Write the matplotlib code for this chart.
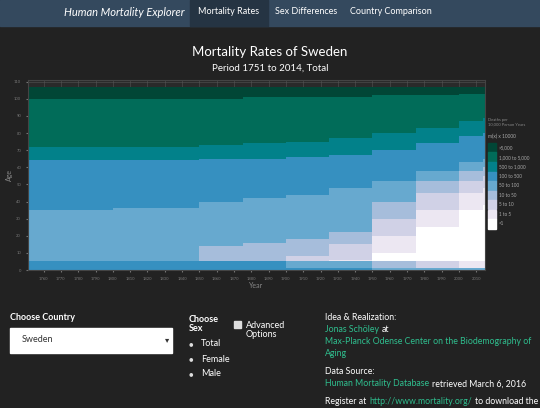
import numpy as np
import matplotlib.pyplot as plt
from matplotlib.colors import ListedColormap, BoundaryNorm
from matplotlib.patches import Rectangle

plt.rcParams['font.family'] = ['Lato', 'DejaVu Sans']

## Data
# sample years; each one holds until the next sample year
sample_years = [1751, 1800, 1850, 1875, 1900, 1925, 1950, 1975, 2000, 2014]
# age where the rate enters class k (k = 1..8), per sample year
thresholds = [
    [0, 0, 0, 0, 35, 64, 72, 100],
    [0, 0, 0, 0, 36, 64, 72, 100],
    [0, 0, 0, 14, 40, 65, 73, 100],
    [0, 0, 0, 16, 42, 65, 74, 101],
    [0, 0, 8, 18, 44, 66, 75, 101],
    [0, 6, 15, 22, 48, 67, 77, 101],
    [10, 20, 30, 40, 52, 70, 80, 102],
    [25, 35, 45, 52, 58, 74, 83, 102],
    [35, 45, 52, 58, 63, 78, 87, 103],
    [38, 48, 55, 60, 65, 80, 89, 103],
]
child_class = [5, 5, 5, 5, 4, 4, 3, 2, 1, 1]   # ages 1-4
infant_class = [5, 5, 5, 5, 5, 5, 4, 4, 4, 4]  # age 0
max_age = 106
class_labels = ['<1', '1 to 5', '5 to 10', '10 to 50', '50 to 100', '100 to 500',
                '500 to 1,000', '1,000 to 5,000', '>5,000']
colors = ['#ffffff', '#ece7f2', '#d0d1e6', '#a6bddb', '#67a9cf',
          '#3690c0', '#02818a', '#016c59', '#014636']

years = np.arange(1751, 2015)
ages = np.arange(0, 111)
Z = np.full((len(ages), len(years)), np.nan)
for j, yr in enumerate(years):
    i = np.searchsorted(sample_years, yr, side='right') - 1
    t = np.array(thresholds[i])
    col = (ages[:, None] >= t[None, :]).sum(axis=1).astype(float)
    col[1:5] = np.maximum(col[1:5], child_class[i])
    col[0] = infant_class[i]
    col[ages > max_age] = np.nan
    Z[:, j] = col

bg = '#222222'
fig = plt.figure(figsize=(5.4, 4.08), dpi=100, facecolor=bg)

# navbar
fig.patches.append(Rectangle((0, 1 - 26/408), 1, 26/408, transform=fig.transFigure,
                             color='#34495e', zorder=0))
fig.patches.append(Rectangle((190/540, 1 - 26/408), 78/540, 26/408, transform=fig.transFigure,
                             color='#253443', zorder=0))
fig.text(64/540, 1 - 12/408, 'Human Mortality Explorer', color='white', fontsize=8,
         style='italic', va='center')
fig.text(198/540, 1 - 12/408, 'Mortality Rates', color='white', fontsize=6.5, va='center')
fig.text(275/540, 1 - 12/408, 'Sex Differences', color='white', fontsize=6.5, va='center')
fig.text(350/540, 1 - 12/408, 'Country Comparison', color='white', fontsize=6.5, va='center')

fig.text(270/540, 1 - 52/408, 'Mortality Rates of Sweden', color='white', fontsize=9.5,
         ha='center', va='center')
fig.text(270/540, 1 - 68/408, 'Period 1751 to 2014, Total', color='white', fontsize=7,
         ha='center', va='center')

ax = fig.add_axes([28/540, 1 - 270/408, 457/540, 190/408])
ax.set_facecolor('#2a2a2a')
cmap = ListedColormap(colors)
norm = BoundaryNorm(np.arange(-0.5, 9.5, 1), cmap.N)
ax.pcolormesh(np.append(years, 2015), np.append(ages, 111), np.ma.masked_invalid(Z),
              cmap=cmap, norm=norm)
ax.set_xlim(1751, 2015)
ax.set_ylim(0, 111)
ax.set_xticks(np.arange(1760, 2015, 10))
ax.set_yticks(np.arange(0, 111, 10))
ax.grid(color='#555555', lw=0.4)
ax.set_axisbelow(True)
ax.tick_params(colors='#777777', labelsize=3, length=1.5)
for s in ax.spines.values():
    s.set_color('#444444')
ax.set_xlabel('Year', color='#888888', fontsize=5, labelpad=1)
ax.set_ylabel('Age', color='#888888', fontsize=5, labelpad=1)

# legend
fig.text(488/540, 1 - 122/408, 'Deaths per\n10,000 Person Years', color='#888888',
         fontsize=3, va='center')
fig.text(488/540, 1 - 136/408, 'm(x) x 10000', color='#aaaaaa', fontsize=3.5, va='center')
top, h = 143, 9.5
for k in range(9):
    y0 = top + k * h
    fig.patches.append(Rectangle((488/540, 1 - (y0 + h)/408), 8/540, h/408,
                                 transform=fig.transFigure, color=colors[8 - k]))
    fig.text(499/540, 1 - (y0 + h/2)/408, class_labels[8 - k], color='#aaaaaa',
             fontsize=3.3, va='center')

# controls
fig.text(10/540, 1 - 318/408, 'Choose Country', color='white', fontsize=6.5,
         weight='bold', va='center')
fig.patches.append(Rectangle((10/540, 1 - 353/408), 162/540, 25/408,
                             transform=fig.transFigure, color='white'))
fig.text(22/540, 1 - 340/408, 'Sweden', color='#333333', fontsize=6.5, va='center')
fig.text(165/540, 1 - 340/408, '▾', color='#333333', fontsize=6, va='center')
fig.text(189/540, 1 - 324/408, 'Choose\nSex', color='white', fontsize=6.5,
         weight='bold', va='center', linespacing=1.1)
for lab, yy in zip(['Total', 'Female', 'Male'], [344, 359, 374]):
    fig.text(189/540, 1 - yy/408, '●', color='#dddddd', fontsize=5.5, va='center')
    fig.text(201/540, 1 - yy/408, lab, color='white', fontsize=6.5, va='center')
fig.patches.append(Rectangle((234/540, 1 - 328/408), 7/540, 7/408,
                             transform=fig.transFigure, color='#dddddd'))
fig.text(246/540, 1 - 330/408, 'Advanced\nOptions', color='white', fontsize=6.5,
         va='center', linespacing=1.1)

green = '#2fbf8f'
x0 = 325/540
fs = 6.3


def line(y, parts):
    prev = None
    for txt, c in parts:
        if prev is None:
            prev = fig.text(x0, 1 - y/408, txt, color=c, fontsize=fs, va='center')
        else:
            prev = fig.text(0, 0, ' ' + txt, color=c, fontsize=fs, va='center')
            prev._chain = True
        parts_objs.append(prev)
    return


parts_objs = []
rows = [
    (317, [('Idea & Realization:', 'white')]),
    (330, [('Jonas Schöley', green), ('at', 'white')]),
    (342, [('Max-Planck Odense Center on the Biodemography of', green)]),
    (354, [('Aging', green)]),
    (372, [('Data Source:', 'white')]),
    (384, [('Human Mortality Database', green), ('retrieved March 6, 2016', 'white')]),
    (401, [('Register at', 'white'), ('http://www.mortality.org/', green),
           ('to download the', 'white')]),
]
fig.canvas.draw()
r = fig.canvas.get_renderer()
for y, parts in rows:
    xpos = x0
    for txt, c in parts:
        tt = fig.text(xpos, 1 - y/408, txt, color=c, fontsize=fs, va='center')
        bb = tt.get_window_extent(renderer=r)
        xpos = bb.x1 / fig.bbox.width + 3/540

fig.savefig('out.png', dpi=100, facecolor=bg)
